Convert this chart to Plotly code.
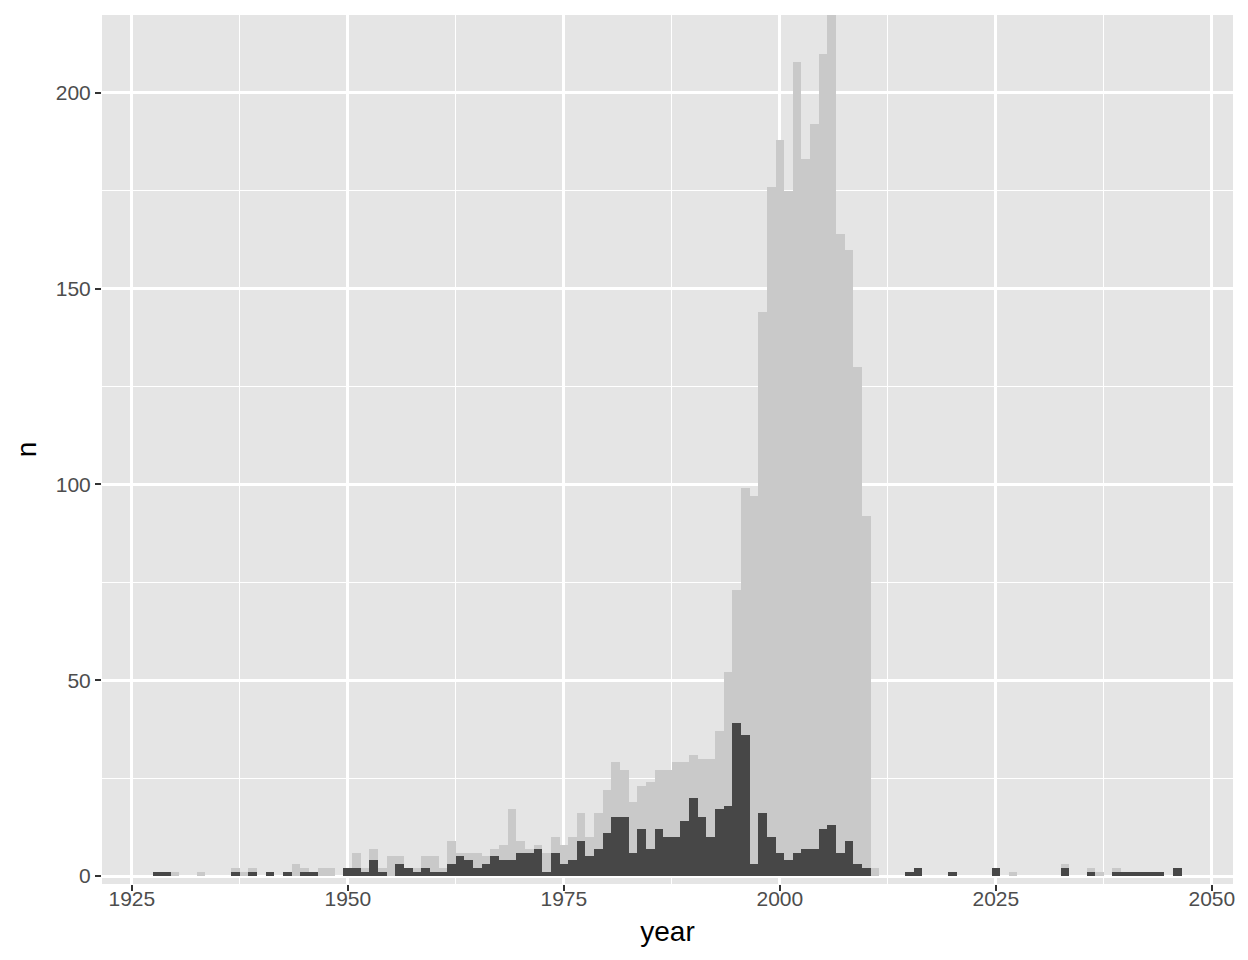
import plotly.graph_objects as go

# All items per year (light grey bars)
years_all = [1928, 1929, 1930, 1933, 1937, 1938, 1939, 1941, 1943, 1944, 1945, 1946, 1947, 1948,
             1950, 1951, 1952, 1953, 1954, 1955, 1956, 1957, 1958, 1959, 1960, 1961, 1962, 1963,
             1964, 1965, 1966, 1967, 1968, 1969, 1970, 1971, 1972, 1973, 1974, 1975, 1976, 1977,
             1978, 1979, 1980, 1981, 1982, 1983, 1984, 1985, 1986, 1987, 1988, 1989, 1990, 1991,
             1992, 1993, 1994, 1995, 1996, 1997, 1998, 1999, 2000, 2001, 2002, 2003, 2004, 2005,
             2006, 2007, 2008, 2009, 2010, 2011, 2015, 2016, 2020, 2025, 2027, 2033, 2036, 2037,
             2039, 2040, 2041, 2042, 2043, 2044, 2046]
n_all = [1, 1, 1, 1, 2, 1, 2, 1, 1, 3, 2, 1, 2, 2,
         2, 6, 2, 7, 2, 5, 5, 2, 2, 5, 5, 2, 9, 6,
         6, 6, 5, 7, 8, 17, 9, 7, 8, 6, 10, 8, 10, 16,
         10, 16, 22, 29, 27, 19, 23, 24, 27, 27, 29, 29, 31, 30,
         30, 37, 52, 73, 99, 97, 144, 176, 188, 175, 208, 183, 192, 210,
         228, 164, 160, 130, 92, 2, 1, 2, 1, 2, 1, 3, 2, 1,
         2, 1, 1, 1, 1, 1, 2]

# Subset per year (dark grey bars)
years_sub = [1928, 1929, 1937, 1939, 1941, 1943, 1945, 1946, 1950, 1951, 1952, 1953, 1954,
             1956, 1957, 1958, 1959, 1960, 1961, 1962, 1963, 1964, 1965, 1966, 1967, 1968,
             1969, 1970, 1971, 1972, 1973, 1974, 1975, 1976, 1977, 1978, 1979, 1980, 1981,
             1982, 1983, 1984, 1985, 1986, 1987, 1988, 1989, 1990, 1991, 1992, 1993, 1994,
             1995, 1996, 1997, 1998, 1999, 2000, 2001, 2002, 2003, 2004, 2005, 2006, 2007,
             2008, 2009, 2010, 2015, 2016, 2020, 2025, 2033, 2036, 2039, 2040, 2041, 2042,
             2043, 2044, 2046]
n_sub = [1, 1, 1, 1, 1, 1, 1, 1, 2, 2, 1, 4, 1,
         3, 2, 1, 2, 1, 1, 3, 5, 4, 2, 3, 5, 4,
         4, 6, 6, 7, 1, 6, 3, 4, 9, 5, 7, 11, 15,
         15, 6, 12, 7, 12, 10, 10, 14, 20, 15, 10, 17, 18,
         39, 36, 3, 16, 10, 6, 4, 6, 7, 7, 12, 13, 6,
         9, 3, 2, 1, 2, 1, 2, 2, 1, 1, 1, 1, 1,
         1, 1, 2]

x_ticks = [1925, 1950, 1975, 2000, 2025, 2050]
y_ticks = [0, 50, 100, 150, 200]

fig = go.Figure()
fig.add_trace(go.Bar(x=years_all, y=n_all, width=1, marker=dict(color="#C9C9C9", line=dict(width=0)),
                     showlegend=False, hoverinfo="x+y"))
fig.add_trace(go.Bar(x=years_sub, y=n_sub, width=1, marker=dict(color="#474747", line=dict(width=0)),
                     showlegend=False, hoverinfo="x+y"))

font_family = "Liberation Sans, Arial, sans-serif"
fig.update_layout(
    width=1248, height=960,
    barmode="overlay", bargap=0,
    paper_bgcolor="white", plot_bgcolor="#E5E5E5",
    margin=dict(l=94, r=23, t=7, b=84),
    font=dict(family=font_family, size=21, color="#4D4D4D"),
    xaxis=dict(
        range=[1921.55, 2052.45], tickmode="array", tickvals=x_ticks,
        ticktext=[str(v) for v in x_ticks],
        showgrid=True, gridcolor="white", gridwidth=2.5,
        minor=dict(tickmode="array", tickvals=[1937.5, 1962.5, 1987.5, 2012.5, 2037.5],
                   showgrid=True, gridcolor="white", gridwidth=1.2, ticks=""),
        zeroline=False, showline=False, automargin=False,
        ticks="outside", ticklen=6, tickwidth=2, tickcolor="#333333",
        ticklabelstandoff=-10,
        tickfont=dict(size=21, color="#4D4D4D"),
        title=dict(text="year", font=dict(size=28, color="black"), standoff=12),
    ),
    yaxis=dict(
        range=[-2.04, 219.9], tickmode="array", tickvals=y_ticks,
        ticktext=[str(v) for v in y_ticks],
        showgrid=True, gridcolor="white", gridwidth=2.5,
        minor=dict(tickmode="array", tickvals=[25, 75, 125, 175],
                   showgrid=True, gridcolor="white", gridwidth=1.2, ticks=""),
        zeroline=False, showline=False, automargin=False,
        ticks="outside", ticklen=6, tickwidth=2, tickcolor="#333333",
        tickfont=dict(size=21, color="#4D4D4D"),
        title=dict(text="n", font=dict(size=28, color="black"), standoff=10),
    ),
)

fig.write_html("out.html")
